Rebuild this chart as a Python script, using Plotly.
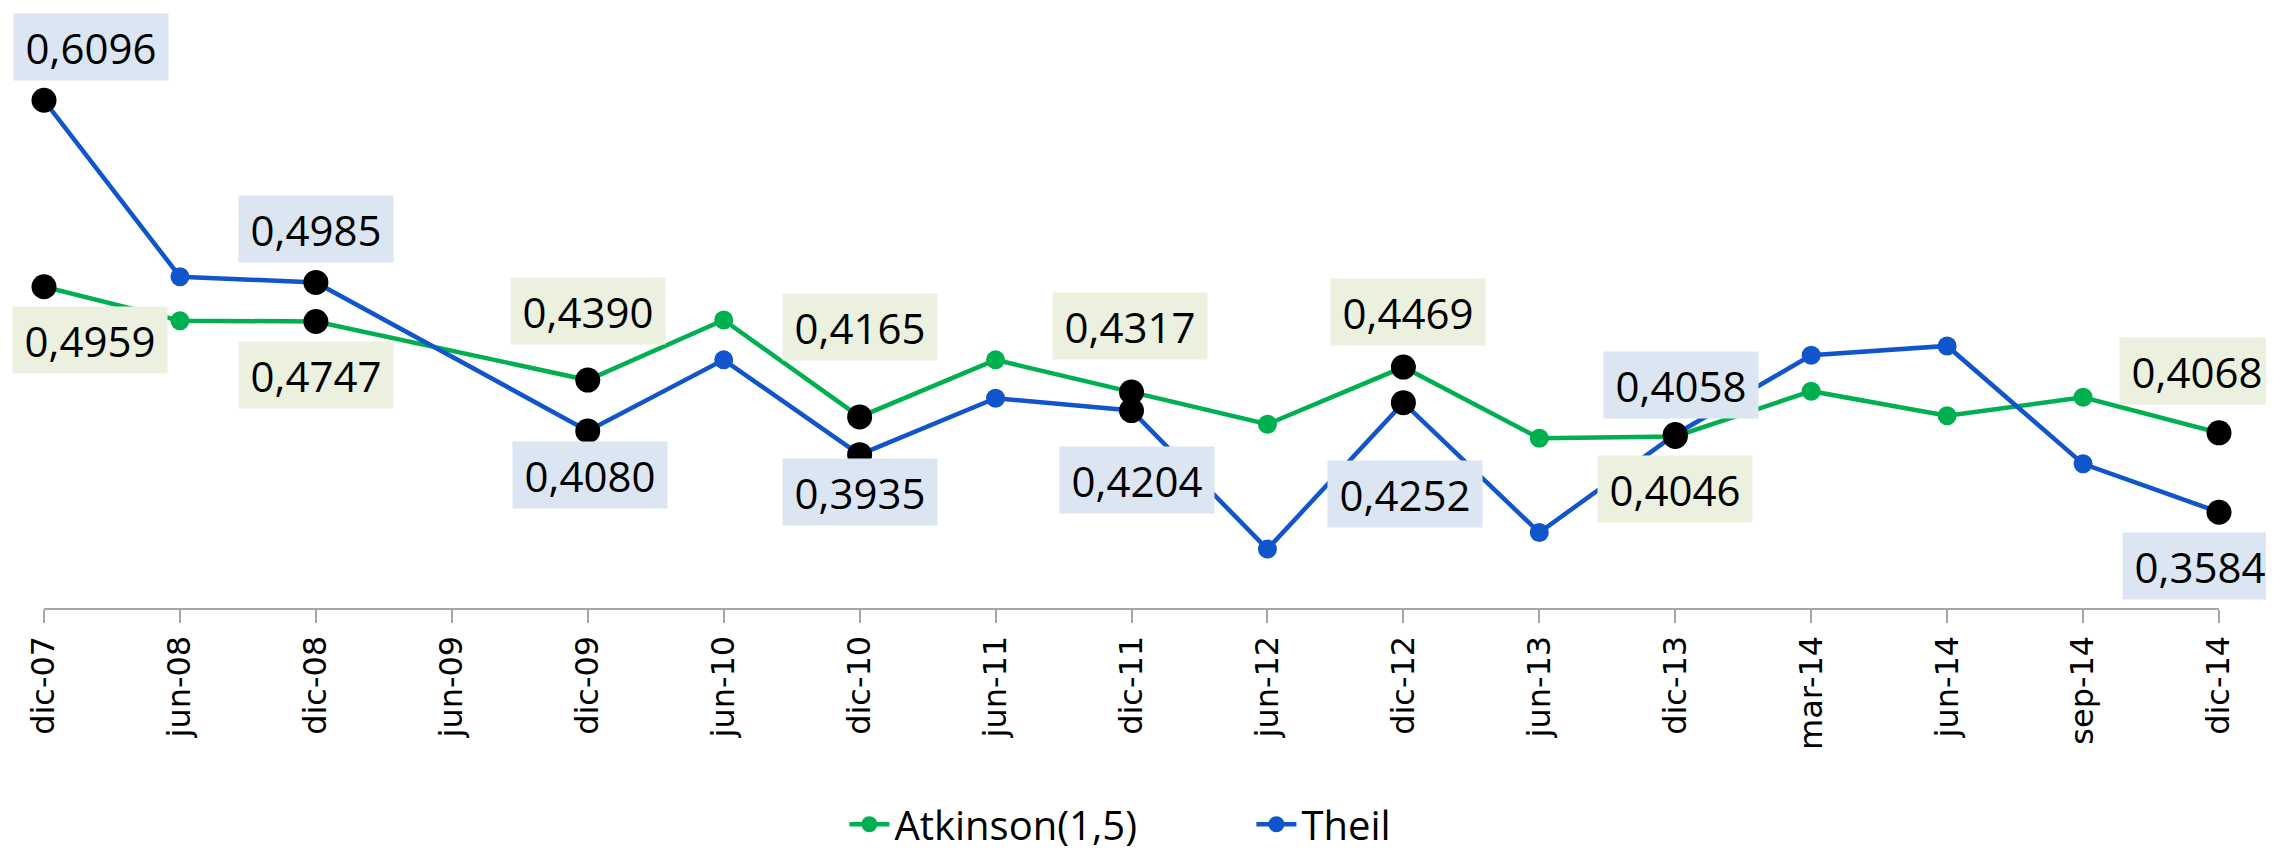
import plotly.graph_objects as go

categories = ["dic-07", "jun-08", "dic-08", "jun-09", "dic-09", "jun-10", "dic-10", "jun-11",
              "dic-11", "jun-12", "dic-12", "jun-13", "dic-13", "mar-14", "jun-14", "sep-14", "dic-14"]

atkinson = [0.4959, 0.4752, 0.4747, None, 0.4390, 0.4756, 0.4165, 0.4513,
            0.4317, 0.4121, 0.4469, 0.4035, 0.4046, 0.4322, 0.4172, 0.4285, 0.4068]
theil = [0.6096, 0.5020, 0.4985, None, 0.4080, 0.4513, 0.3935, 0.4279,
         0.4204, 0.3359, 0.4252, 0.3460, 0.4058, 0.4541, 0.4598, 0.3879, 0.3584]

atkinson_labels = ["0,4959", "", "0,4747", "", "0,4390", "", "0,4165", "",
                   "0,4317", "", "0,4469", "", "0,4046", "", "", "", "0,4068"]
theil_labels = ["0,6096", "", "0,4985", "", "0,4080", "", "0,3935", "",
                "0,4204", "", "0,4252", "", "0,4058", "", "", "", "0,3584"]

# label box offsets in pixels (xshift, yshift), layout only
atk_offsets = {0: (46, -53), 2: (0, -54), 4: (0, 69), 6: (0, 90), 8: (-2, 66),
               10: (5, 55), 12: (0, -53), 16: (-22, 62)}
theil_offsets = {0: (47, 53), 2: (0, 53), 4: (2, -44), 6: (0, -37), 8: (5, -69),
                 10: (2, -91), 12: (6, 49), 16: (-19, -54)}

GREEN = "#00B050"
BLUE = "#1155CC"
FONT = "Open Sans"

fig = go.Figure()
fig.add_trace(go.Scatter(x=categories, y=atkinson, name="Atkinson(1,5)", mode="lines+markers",
                         connectgaps=True, cliponaxis=False,
                         line=dict(color=GREEN, width=4.5), marker=dict(color=GREEN, size=19)))
fig.add_trace(go.Scatter(x=categories, y=theil, name="Theil", mode="lines+markers",
                         connectgaps=True, cliponaxis=False,
                         line=dict(color=BLUE, width=4.5), marker=dict(color=BLUE, size=19)))

for vals, labs in ((atkinson, atkinson_labels), (theil, theil_labels)):
    fig.add_trace(go.Scatter(x=[c for c, l in zip(categories, labs) if l],
                             y=[v for v, l in zip(vals, labs) if l],
                             mode="markers", showlegend=False, cliponaxis=False,
                             marker=dict(color="black", size=25), hoverinfo="skip"))

annotations = []
for vals, labs, offs, bg in ((atkinson, atkinson_labels, atk_offsets, "#EBF1DE"),
                             (theil, theil_labels, theil_offsets, "#DCE6F2")):
    for i, (c, v, l) in enumerate(zip(categories, vals, labs)):
        if not l:
            continue
        dx, dy = offs[i]
        annotations.append(dict(x=c, y=v, xref="x", yref="y", text=l, showarrow=False,
                                xshift=dx, yshift=dy, bgcolor=bg, width=154, height=66,
                                borderpad=0, align="center", valign="middle",
                                font=dict(family=FONT, size=42, color="black")))

fig.update_layout(
    width=2266, height=845,
    margin=dict(l=36, r=55, t=26, b=245),
    paper_bgcolor="white", plot_bgcolor="white",
    annotations=annotations,
    showlegend=True,
    legend=dict(orientation="h", x=0.368, xanchor="left", xref="paper",
                y=0.034, yref="container", yanchor="middle",
                font=dict(family=FONT, size=40, color="black"),
                itemwidth=40, entrywidth=352, bgcolor="rgba(0,0,0,0)"),
    xaxis=dict(type="category", range=[0, 16], showgrid=False, zeroline=False,
               showline=True, linecolor="#A6A6A6", linewidth=2,
               ticks="outside", ticklen=13, tickwidth=2, tickcolor="#A6A6A6",
               tickangle=-90, tickfont=dict(family="DejaVu Sans", size=32, color="black")),
    yaxis=dict(range=[0.30, 0.65], showgrid=False, zeroline=False, showline=False,
               showticklabels=False, ticks=""),
)

fig.write_html("out.html")
